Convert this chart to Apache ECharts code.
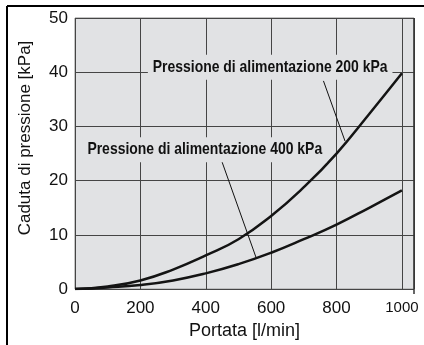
<!DOCTYPE html>
<html><head><meta charset="utf-8">
<script src="https://cdn.jsdelivr.net/npm/echarts@6/dist/echarts.min.js"></script>
<style>html,body{margin:0;padding:0;background:#fff}#c{width:424px;height:345px}</style>
</head><body><div id="c"></div>
<script>
const flow = [0, 100, 200, 300, 400, 500, 600, 700, 800, 900, 1000];
const drop200 = [0, 0.5, 1.6, 3.6, 6.2, 9.2, 13.5, 18.8, 25.0, 32.3, 39.8];
const drop400 = [0, 0.3, 0.75, 1.6, 2.9, 4.6, 6.7, 9.2, 11.9, 15.0, 18.2];
const yTicks = [0, 10, 20, 30, 40, 50];
const xTicks = [0, 200, 400, 600, 800, 1000];
const label200 = 'Pressione di alimentazione 200 kPa';
const label400 = 'Pressione di alimentazione 400 kPa';
const leader200 = [[760, 38.4], [826, 27.3]];
const leader400 = [[449, 23.6], [554, 5.8]];
const labelPos200 = [597, 40.9];
const labelPos400 = [397, 25.7];

const chart = echarts.init(document.getElementById('c'));
const pts = (ys) => flow.map((x, i) => [x, ys[i]]);
const FONT = '"Liberation Sans",Arial,sans-serif';
chart.setOption({
  animation: false,
  grid: { left: 75, right: 10, top: 18, bottom: 51.5, show: true,
          backgroundColor: '#e1e2e4', borderColor: '#8a8a8a', borderWidth: 1 },
  xAxis: {
    type: 'value', min: 0, max: 1037, interval: 200,
    name: 'Portata [l/min]', nameLocation: 'middle', nameGap: 30,
    nameTextStyle: { fontFamily: FONT, fontSize: 18, color: '#111' },
    axisLine: { show: false }, axisTick: { show: false },
    axisLabel: {
      margin: 11, showMaxLabel: false, color: '#111', fontSize: 17, fontFamily: FONT,
      formatter: (v) => xTicks.indexOf(v) < 0 ? '' : (v === 1000 ? '{n|1000}' : String(v)),
      rich: { n: { fontFamily: FONT, fontSize: 15, color: '#111' } }
    },
    splitLine: { show: true, lineStyle: { color: '#454545', width: 1 } }
  },
  yAxis: {
    type: 'value', min: 0, max: 50, interval: 10,
    axisLine: { show: false }, axisTick: { show: false },
    axisLabel: { margin: 7, color: '#111', fontSize: 17, fontFamily: FONT,
      formatter: (v) => yTicks.indexOf(v) < 0 ? '' : String(v) },
    splitLine: { show: true, lineStyle: { color: '#454545', width: 1 } }
  },
  series: [
    { name: '200 kPa', type: 'line', data: pts(drop200), smooth: true, symbol: 'none',
      lineStyle: { color: '#141414', width: 2.5 },
      markLine: { silent: true, symbol: ['none', 'none'], label: { show: false },
        lineStyle: { color: '#111', width: 1, type: 'solid' },
        data: [[{ coord: leader200[0] }, { coord: leader200[1] }]] } },
    { name: '400 kPa', type: 'line', data: pts(drop400), smooth: true, symbol: 'none',
      lineStyle: { color: '#141414', width: 2.5 },
      markLine: { silent: true, symbol: ['none', 'none'], label: { show: false },
        lineStyle: { color: '#111', width: 1, type: 'solid' },
        data: [[{ coord: leader400[0] }, { coord: leader400[1] }]] } }
  ]
});
const p200 = chart.convertToPixel({ gridIndex: 0 }, labelPos200);
const p400 = chart.convertToPixel({ gridIndex: 0 }, labelPos400);
const anno = (p, text) => ({
  type: 'text', x: p[0], y: p[1], scaleX: 0.82, z: 50,
  style: { text: text, fill: '#111', fontFamily: FONT, fontWeight: 'bold', fontSize: 17,
           align: 'center', verticalAlign: 'middle',
           backgroundColor: '#e1e2e4', padding: [4, 6, 4, 6] }
});
chart.setOption({
  graphic: [
    { type: 'line', shape: { x1: 7, y1: 6, x2: 430, y2: 6 }, style: { stroke: '#000', lineWidth: 2 } },
    { type: 'line', shape: { x1: 7, y1: 6, x2: 7, y2: 350 }, style: { stroke: '#000', lineWidth: 2 } },
    { type: 'line', shape: { x1: 414, y1: 18, x2: 414, y2: 294 }, style: { stroke: '#333', lineWidth: 1.5 } },
    { type: 'text', x: 25, y: 138, rotation: Math.PI / 2,
      style: { text: 'Caduta di pressione [kPa]', fill: '#111', fontSize: 17, fontFamily: FONT,
               align: 'center', verticalAlign: 'middle' } },
    anno(p200, label200),
    anno(p400, label400)
  ]
});
</script></body></html>
